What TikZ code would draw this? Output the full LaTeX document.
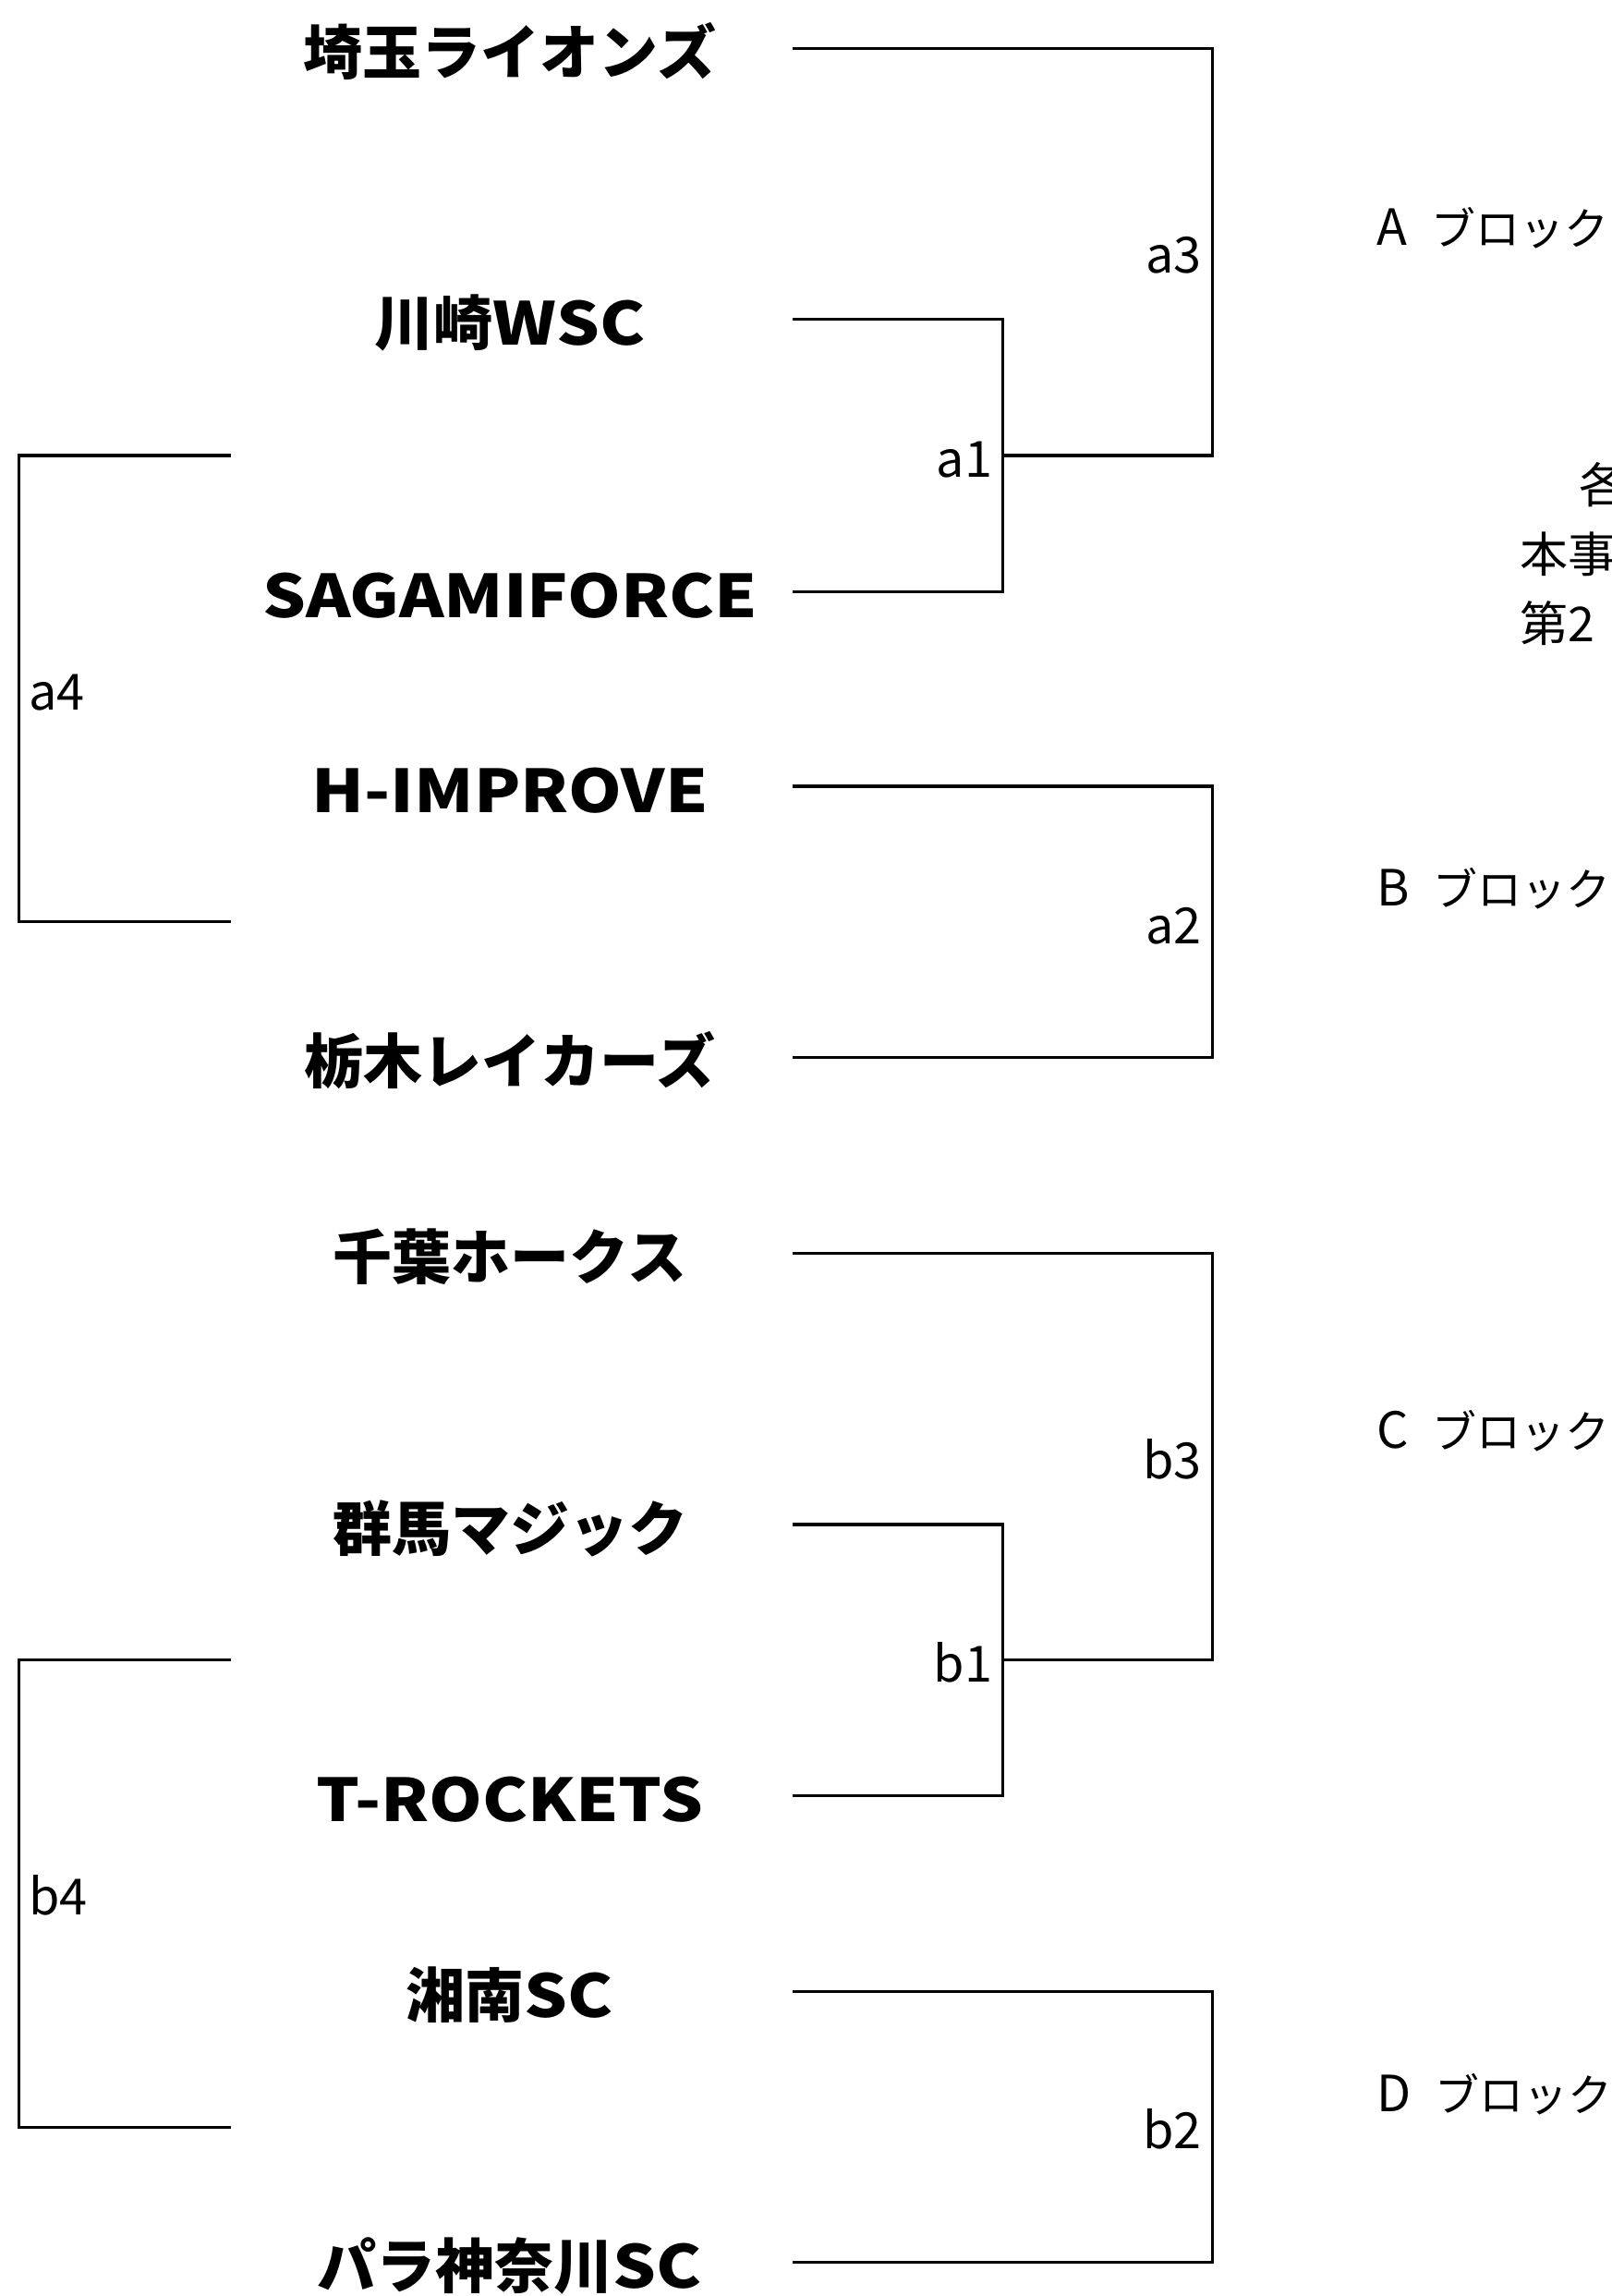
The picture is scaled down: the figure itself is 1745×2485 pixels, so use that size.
\documentclass[tikz,border=0pt]{standalone}
\usepackage{fontspec}
\newfontfamily\jp{Noto Sans CJK JP}
\newfontfamily\jpwide{Noto Sans CJK JP}[FakeStretch=1.15]
\newcommand\latw[1]{{\jpwide\bfseries #1}}
\begin{document}
\begin{tikzpicture}[x=0.5pt,y=-0.5pt,
  line/.style={line width=1.6pt, line join=miter},
  team/.style={anchor=base, inner sep=0pt, font=\jp\bfseries\fontsize{32}{32}\selectfont},
  labr/.style={anchor=base east, inner sep=0pt, font=\jp\fontsize{27}{27}\selectfont},
  labl/.style={anchor=base west, inner sep=0pt, font=\jp\fontsize{27}{27}\selectfont},
  blk/.style={anchor=base west, inner sep=0pt, font=\jp\fontsize{24}{24}\selectfont},
  note/.style={anchor=base west, inner sep=0pt, font=\jp\fontsize{26}{26}\selectfont}]
\useasboundingbox (0,0) rectangle (1745,2485);
\fill[white] (0,0) rectangle (1745,2485);

% team names
\node[team] (n1)  at (552,80.3)   {埼玉ライオンズ};
\node[team] (n2)  at (552,373.5)  {川崎\latw{WSC}};
\node[team] (n3)  at (552,668.3)  {\latw{SAGAMIFORCE}};
\node[team] (n4)  at (552,879)    {\latw{H-IMPROVE}};
\node[team] (n5)  at (552,1172.4) {栃木レイカーズ};
\node[team] (n6)  at (552,1384.8) {千葉ホークス};
\node[team] (n7)  at (552,1678)   {群馬マジック};
\node[team] (n8)  at (552,1971.2) {\latw{T-ROCKETS}};
\node[team] (n9)  at (552,2183.6) {湘南\latw{SC}};
\node[team] (n10) at (552,2476.8) {パラ神奈川\latw{SC}};

% line starts
\coordinate (s1)  at (857.5,52.3);
\coordinate (s2)  at (857.5,345.5);
\coordinate (s3)  at (857.5,640.3);
\coordinate (s4)  at (857.5,851);
\coordinate (s5)  at (857.5,1144.4);
\coordinate (s6)  at (857.5,1356.8);
\coordinate (s7)  at (857.5,1650);
\coordinate (s8)  at (857.5,1943.2);
\coordinate (s9)  at (857.5,2155.6);
\coordinate (s10) at (857.5,2448.8);

% junctions
\coordinate (a1o) at (1085.7,492.9);
\coordinate (a3b) at (1312.4,492.9);
\coordinate (a2o) at (1312.4,997.7);
\coordinate (a4t) at (250.4,492.9);
\coordinate (a4b) at (250.4,997.7);
\coordinate (a4o) at (20.6,745.3);
\coordinate (b1o) at (1085.7,1796.6);
\coordinate (b3b) at (1312.4,1796.6);
\coordinate (b2o) at (1312.4,2302.2);
\coordinate (b4t) at (250.4,1796.6);
\coordinate (b4b) at (250.4,2302.2);
\coordinate (b4o) at (20.6,2049.4);

% brackets A
\draw[line] (s2) -| (a1o) |- (s3);
\draw[line] (s1) -| (a3b) -- (a1o);
\draw[line] (s4) -| (a2o) |- (s5);
\draw[line] (a4t) -| (a4o) |- (a4b);
% brackets B
\draw[line] (s7) -| (b1o) |- (s8);
\draw[line] (s6) -| (b3b) -- (b1o);
\draw[line] (s9) -| (b2o) |- (s10);
\draw[line] (b4t) -| (b4o) |- (b4b);

% match labels
\node[labr] (la3) at (1301,295.6)  {a3};
\node[labr] (la1) at (1074.7,516)  {a1};
\node[labr] (la2) at (1301,1021)   {a2};
\node[labl] (la4) at (31,768)      {a4};
\node[labr] (lb3) at (1301,1600)   {b3};
\node[labr] (lb1) at (1074.7,1820) {b1};
\node[labr] (lb2) at (1301,2325)   {b2};
\node[labl] (lb4) at (31,2072)     {b4};

% block labels
\node[blk] (bA) at (1490,265)  {{\fontsize{27}{27}\selectfont A}\hspace{13pt}ブロック};
\node[blk] (bB) at (1490,980)  {{\fontsize{27}{27}\selectfont B}\hspace{13pt}ブロック};
\node[blk] (bC) at (1490,1567) {{\fontsize{27}{27}\selectfont C}\hspace{13pt}ブロック};
\node[blk] (bD) at (1490,2285) {{\fontsize{27}{27}\selectfont D}\hspace{13pt}ブロック};

% note text (cut by the page edge, as in the reference)
\node[note] (t1) at (1709,544) {各};
\node[note] (t2) at (1645,619) {本事};
\node[note] (t3) at (1645,694) {第2};
\end{tikzpicture}
\end{document}
